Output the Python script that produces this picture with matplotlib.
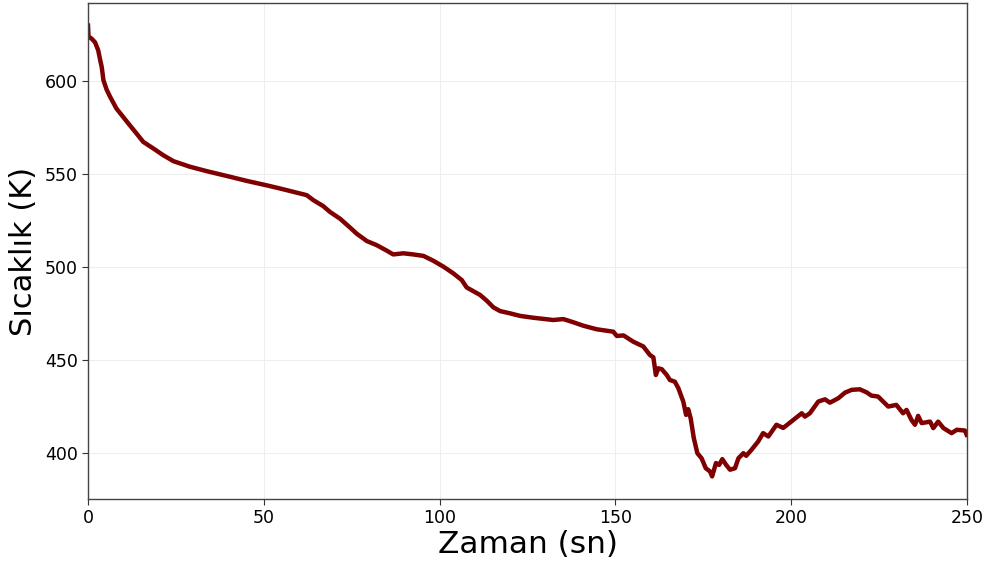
import matplotlib.pyplot as plt
import numpy as np

# cooling curve readings: time (s) and temperature (K)
zaman = [0.0, 0.15, 1.0, 2.0, 2.9, 3.4, 3.9, 4.4, 5.3, 6.3, 8.1, 10.0, 11.9,
         13.8, 15.7, 18.6, 21.4, 24.3, 26.5, 29.0, 33.8, 40.4, 45.1, 50.8,
         54.6, 59.4, 62.2, 64.1, 66.9, 68.8, 71.7, 74.5, 76.4, 79.3, 82.1,
         85.0, 86.8, 89.7, 92.5, 95.4, 98.2, 101.1, 103.9, 106.3, 107.7,
         111.5, 113.4, 115.3, 117.2, 120.0, 122.9, 126.7, 130.5, 132.3, 135.2,
         138.0, 140.9, 144.7, 149.4, 150.4, 152.3, 155.1, 157.9, 159.8, 160.8,
         161.5, 162.2, 163.2, 164.6, 165.5, 166.9, 167.9, 169.3, 170.1, 170.7,
         171.4, 172.3, 173.3, 174.5, 175.7, 176.9, 177.5, 178.6, 179.5, 180.4,
         181.5, 182.6, 184.0, 185.0, 186.4, 187.2, 188.7, 190.6, 192.0, 193.5,
         195.8, 197.7, 198.2, 200.6, 203.0, 203.9, 205.3, 207.7, 209.6, 211.0,
         213.4, 215.3, 217.2, 219.5, 221.4, 222.8, 224.7, 227.6, 229.9, 231.8,
         232.8, 234.2, 235.2, 236.1, 237.1, 239.5, 240.4, 241.8, 243.3, 245.6,
         247.1, 249.4, 249.9]
sicaklik = [630.0, 624.0, 623.0, 621.0, 616.7, 612.0, 607.7, 600.5, 595.5,
            591.6, 585.3, 580.8, 576.3, 571.9, 567.4, 563.8, 560.2, 557.0,
            555.6, 554.0, 551.6, 548.6, 546.4, 544.0, 542.3, 540.0, 538.7,
            536.0, 532.8, 529.7, 526.0, 521.3, 518.0, 514.0, 511.8, 508.8,
            506.8, 507.4, 506.8, 506.0, 503.4, 500.2, 496.6, 493.0, 489.0,
            485.0, 481.9, 478.3, 476.3, 475.1, 473.7, 472.7, 471.9, 471.5,
            472.0, 470.3, 468.4, 466.5, 465.2, 462.9, 463.2, 459.8, 457.3,
            452.7, 451.4, 441.9, 445.5, 445.0, 441.9, 439.2, 438.3, 434.8,
            427.6, 420.4, 423.5, 418.6, 407.9, 399.8, 397.1, 391.7, 390.0,
            387.3, 394.5, 393.5, 396.6, 393.5, 390.9, 391.7, 397.1, 399.8,
            398.4, 401.6, 406.1, 410.6, 408.8, 415.1, 413.4, 414.1, 417.7,
            421.3, 419.5, 421.3, 427.6, 428.8, 427.0, 429.4, 432.4, 433.9,
            434.2, 432.6, 430.8, 430.3, 424.9, 425.8, 421.3, 423.1, 417.7,
            415.1, 419.9, 416.0, 416.8, 413.3, 416.8, 413.3, 410.6, 412.4,
            412.0, 409.7]

fig = plt.figure(figsize=(9.91, 5.67), dpi=100)
ax = fig.add_axes([0.0888, 0.12, 0.8870, 0.8747])

ax.plot(zaman, sicaklik, color='#7f0000', linewidth=3.2, solid_joinstyle='round')

ax.set_xlim(0, 250)
ax.margins(y=0.05)
ax.set_xticks([0, 50, 100, 150, 200, 250])
ax.set_yticks([400, 450, 500, 550, 600])
ax.grid(True, color='#eeeeee', linewidth=0.8)
ax.set_axisbelow(True)

ax.tick_params(labelsize=12.5, length=4, color='#333333')
for spine in ax.spines.values():
    spine.set_color('#444444')
    spine.set_linewidth(1.0)

ax.set_xlabel('Zaman (sn)', fontsize=22.5, labelpad=2)
ax.set_ylabel('Sıcaklık (K)', fontsize=22, labelpad=5)

fig.savefig('out.png', dpi=100)
